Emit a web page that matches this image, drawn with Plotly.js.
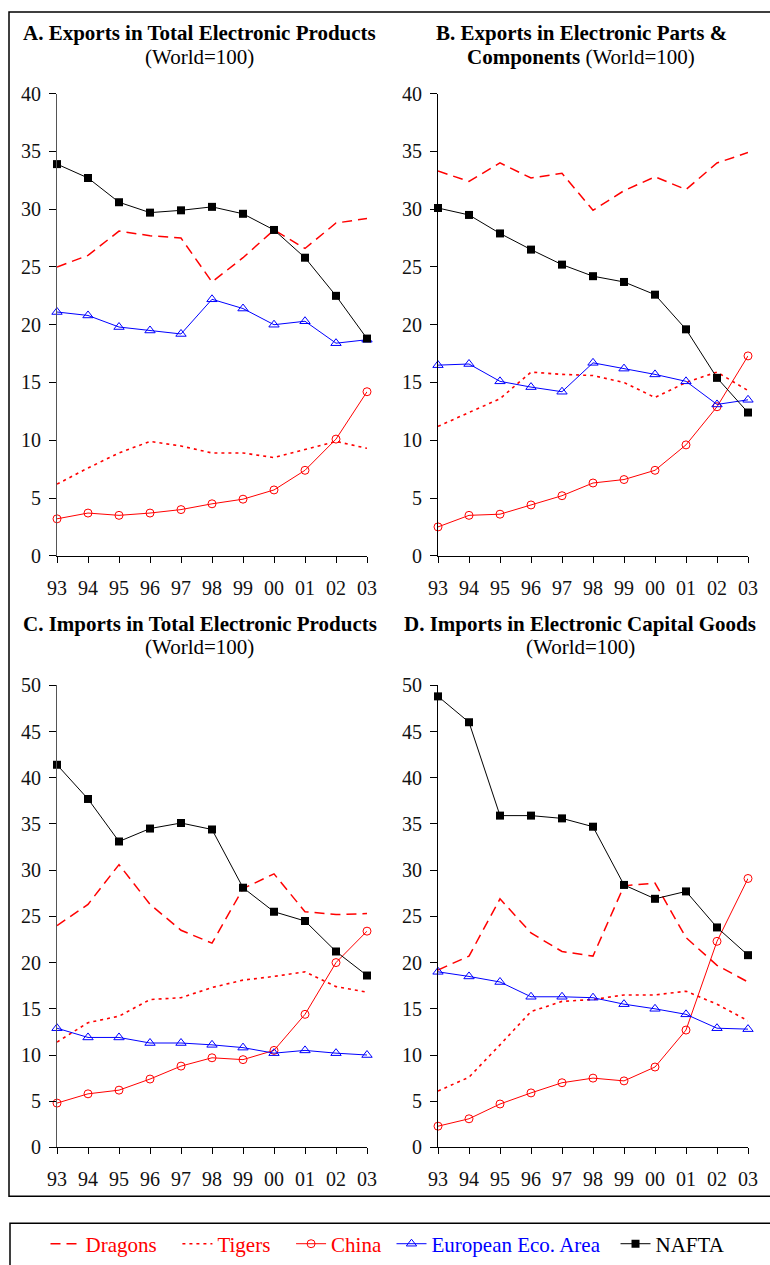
<!DOCTYPE html>
<html>
<head>
<meta charset="utf-8">
<script src="https://cdn.plot.ly/plotly-3.0.1.min.js"></script>
<style>html,body{margin:0;padding:0;background:#fff;}#chart{width:770px;height:1265px;}</style>
</head>
<body>
<div id="chart"></div>
<script>
// ---- data ----
const years = ['93','94','95','96','97','98','99','00','01','02','03'];
const seriesNames = ['Dragons','Tigers','China','European Eco. Area','NAFTA'];

// A. Exports in Total Electronic Products
const expTotalDragons = [25.0,26.0,28.1,27.7,27.5,23.7,25.8,28.2,26.6,28.8,29.2];
const expTotalTigers  = [6.2,7.6,8.9,9.9,9.5,8.9,8.9,8.5,9.2,9.9,9.3];
const expTotalChina   = [3.2,3.7,3.5,3.7,4.0,4.5,4.9,5.7,7.4,10.1,14.2];
const expTotalEEA     = [21.1,20.8,19.8,19.5,19.2,22.2,21.4,20.0,20.3,18.4,18.7];
const expTotalNAFTA   = [33.9,32.7,30.6,29.7,29.9,30.2,29.6,28.2,25.8,22.5,18.8];

// B. Exports in Electronic Parts & Components
const expPartsDragons = [33.3,32.4,34.0,32.7,33.1,29.9,31.6,32.8,31.7,34.0,34.9];
const expPartsTigers  = [11.2,12.4,13.6,15.9,15.7,15.6,15.0,13.7,15.0,15.9,14.3];
const expPartsChina   = [2.5,3.5,3.6,4.4,5.2,6.3,6.6,7.4,9.6,12.9,17.3];
const expPartsEEA     = [16.5,16.6,15.1,14.6,14.2,16.7,16.2,15.7,15.1,13.1,13.5];
const expPartsNAFTA   = [30.1,29.5,27.9,26.5,25.2,24.2,23.7,22.6,19.6,15.4,12.4];

// C. Imports in Total Electronic Products
const impTotalDragons = [24.0,26.3,30.6,26.3,23.5,22.1,28.0,29.6,25.5,25.2,25.3];
const impTotalTigers  = [11.4,13.5,14.2,16.0,16.2,17.3,18.1,18.5,19.0,17.4,16.8];
const impTotalChina   = [4.8,5.8,6.2,7.4,8.8,9.7,9.5,10.5,14.4,20.0,23.4];
const impTotalEEA     = [12.9,11.9,11.9,11.3,11.3,11.1,10.8,10.2,10.5,10.2,10.0];
const impTotalNAFTA   = [41.4,37.7,33.1,34.5,35.1,34.4,28.1,25.5,24.5,21.2,18.6];

// D. Imports in Electronic Capital Goods
const impCapDragons = [19.2,20.7,26.9,23.2,21.2,20.7,28.3,28.6,22.7,19.7,17.9];
const impCapTigers  = [6.1,7.6,11.1,14.7,15.8,16.0,16.5,16.5,16.9,15.5,13.7];
const impCapChina   = [2.3,3.1,4.7,5.9,7.0,7.5,7.2,8.7,12.7,22.3,29.1];
const impCapEEA     = [19.0,18.5,17.9,16.3,16.3,16.2,15.5,15.0,14.4,12.9,12.8];
const impCapNAFTA   = [48.8,46.0,35.9,35.9,35.6,34.7,28.4,26.9,27.7,23.8,20.8];

const panelTitles = [
  ['<b>A. Exports in Total Electronic Products</b>', '(World=100)'],
  ['<b>B. Exports in Electronic Parts &amp;</b>', '<b>Components</b> (World=100)'],
  ['<b>C. Imports in Total Electronic Products</b>', '(World=100)'],
  ['<b>D. Imports in Electronic Capital Goods</b>', '(World=100)']
];
const yRanges = [[0,40],[0,40],[0,50],[0,50]];
const legendColors = ['#ff0000','#ff0000','#ff0000','#0000ff','#000000'];

// ---- styling / layout ----
const W = 770, H = 1265;
const FONT = 'Liberation Serif, Times New Roman, serif';
const px = v => v / W;
const py = v => 1 - v / H;

const panels = [
  {data:[expTotalDragons,expTotalTigers,expTotalChina,expTotalEEA,expTotalNAFTA], x0:57, x1:367, yTop:94, yBot:558, tc:200, t1:33, t2:57, ylc:'#555'},
  {data:[expPartsDragons,expPartsTigers,expPartsChina,expPartsEEA,expPartsNAFTA], x0:438, x1:748, yTop:94, yBot:558, tc:581, t1:33, t2:57, ylc:'#000'},
  {data:[impTotalDragons,impTotalTigers,impTotalChina,impTotalEEA,impTotalNAFTA], x0:57, x1:367, yTop:688, yBot:1152, tc:200, t1:626, t2:650, ylc:'#555'},
  {data:[impCapDragons,impCapTigers,impCapChina,impCapEEA,impCapNAFTA], x0:438, x1:748, yTop:688, yBot:1152, tc:580, t1:626, t2:650, ylc:'#000'}
];

const styles = [
  {mode:'lines', line:{color:'#ff0000', width:1.5, dash:'10px,6px'}},
  {mode:'lines', line:{color:'#ff0000', width:1.6, dash:'3px,4px'}},
  {mode:'lines+markers', line:{color:'#ff0000', width:1}, marker:{symbol:'circle-open', size:8, color:'#ff0000', line:{width:1, color:'#ff0000'}}},
  {mode:'lines+markers', line:{color:'#0000ff', width:1}, marker:{symbol:'triangle-up-open', size:9, color:'#0000ff', line:{width:1, color:'#0000ff'}}},
  {mode:'lines+markers', line:{color:'#000000', width:1}, marker:{symbol:'square', size:8, color:'#000000'}}
];
const legendPad = ['&nbsp;&nbsp;&nbsp;','&nbsp;&nbsp;&nbsp;','&nbsp;','&nbsp;&nbsp;',''];

const xIdx = years.map((_, i) => i);
const traces = [];
const layout = {
  width: W, height: H,
  margin: {l:0, r:0, t:0, b:0},
  paper_bgcolor: '#fff', plot_bgcolor: 'rgba(0,0,0,0)',
  font: {family: FONT, size: 20, color: '#000'},
  showlegend: true,
  legend: {orientation:'h', x:px(388), xanchor:'center', y:py(1249), yanchor:'middle',
           font:{family:FONT, size:21, color:'#000'}, bgcolor:'rgba(0,0,0,0)', borderwidth:0, itemwidth:30},
  annotations: [],
  shapes: [
    {type:'rect', xref:'paper', yref:'paper', x0:px(9), x1:px(790), y0:py(1201), y1:py(12), line:{color:'#000', width:1.5}, fillcolor:'rgba(0,0,0,0)'},
    {type:'rect', xref:'paper', yref:'paper', x0:px(10), x1:px(790), y0:py(1290), y1:py(1228), line:{color:'#000', width:1.5}, fillcolor:'rgba(0,0,0,0)'}
  ]
};

panels.forEach((p, k) => {
  const n = k === 0 ? '' : String(k + 1);
  const xa = 'x' + n, ya = 'y' + n;
  p.data.forEach((vals, s) => {
    const t = Object.assign({
      type:'scatter', x:xIdx, y:vals, xaxis:xa, yaxis:ya, cliponaxis:false,
      name:'<span style="color:' + legendColors[s] + '">' + seriesNames[s] + '</span>' + legendPad[s],
      legendgroup: seriesNames[s], showlegend: k === 0, hoverinfo:'skip'
    }, JSON.parse(JSON.stringify(styles[s])));
    traces.push(t);
  });
  layout['xaxis' + n] = {
    domain:[px(p.x0), px(p.x1)], anchor:ya, range:[0,10], fixedrange:true,
    tickmode:'array', tickvals:xIdx, ticktext:years,
    showgrid:false, zeroline:false, showline:true, linecolor:'#000', linewidth:1,
    ticks:'outside', ticklen:6, tickcolor:'#000', tickwidth:1,
    tickfont:{family:FONT, size:20, color:'#111'}, ticklabelstandoff:8
  };
  layout['yaxis' + n] = {
    domain:[py(p.yBot), py(p.yTop)], anchor:xa, range:yRanges[k], dtick:5, fixedrange:true,
    showgrid:false, zeroline:false, showline:true, linecolor:p.ylc, linewidth:1,
    ticks:'outside', ticklen:7, tickcolor:'#000', tickwidth:1,
    tickfont:{family:FONT, size:20, color:'#111'}, ticklabelstandoff:4
  };
  layout.annotations.push(
    {xref:'paper', yref:'paper', x:px(p.tc), y:py(p.t1), xanchor:'center', yanchor:'middle', showarrow:false,
     text:panelTitles[k][0], font:{family:FONT, size:21, color:'#000'}},
    {xref:'paper', yref:'paper', x:px(p.tc), y:py(p.t2), xanchor:'center', yanchor:'middle', showarrow:false,
     text:panelTitles[k][1], font:{family:FONT, size:21, color:'#000'}}
  );
});

Plotly.newPlot('chart', traces, layout, {staticPlot:true, displayModeBar:false});
</script>
</body>
</html>
